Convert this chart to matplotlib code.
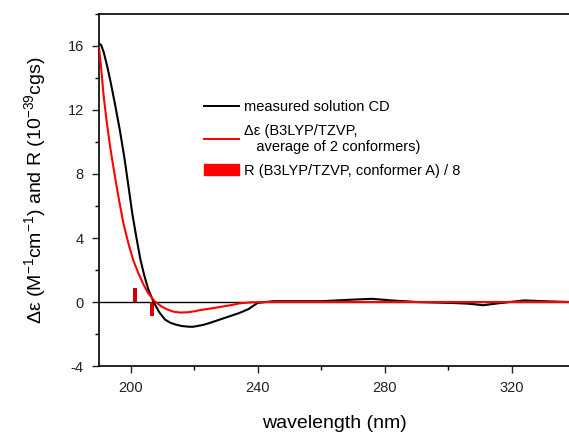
import matplotlib
matplotlib.use("Agg")
import matplotlib.pyplot as plt
from matplotlib.lines import Line2D
from matplotlib.patches import Patch
from matplotlib.ticker import MultipleLocator

plt.rcParams['font.family'] = ['Liberation Sans', 'DejaVu Sans']
plt.rcParams['axes.unicode_minus'] = False
plt.rcParams['mathtext.default'] = 'regular'

# measured solution CD
meas_wl = [190, 190.7, 191.5, 192.5, 193.5, 195, 196.6, 198, 199.3, 200.5, 201.8, 203, 204.2, 205.5,
           207.2, 209, 210.8, 212.5, 214, 216, 218, 219.5, 221, 223, 225, 228, 231, 234, 237, 240,
           245, 250, 260, 270, 276, 282, 290, 300, 306, 311, 317, 324, 330, 338]
meas_de = [16.15, 16.05, 15.6, 14.8, 13.9, 12.4, 10.7, 9.0, 7.2, 5.5, 4.0, 2.7, 1.7, 0.8,
           0.0, -0.65, -1.1, -1.3, -1.4, -1.5, -1.54, -1.55, -1.5, -1.42, -1.3, -1.1, -0.9, -0.7, -0.45, -0.05,
           0.05, 0.05, 0.05, 0.15, 0.2, 0.1, 0.0, -0.05, -0.1, -0.2, -0.05, 0.1, 0.05, 0.0]

# calculated (B3LYP/TZVP, average of 2 conformers)
calc_wl = [190, 190.7, 191.4, 192.4, 193.5, 194.8, 196.1, 197.6, 199.2, 200.8, 202.4, 204, 205.5,
           207.5, 209.7, 211.5, 213.4, 215.5, 218, 220, 222, 226, 229, 232, 234.4, 238, 242, 338]
calc_de = [15.9, 14.6, 13.0, 11.3, 9.7, 8.1, 6.6, 5.0, 3.7, 2.6, 1.8, 1.1, 0.55,
           0.05, -0.28, -0.47, -0.6, -0.66, -0.64, -0.58, -0.5, -0.38, -0.28, -0.18, -0.08, -0.02, 0.0, 0.0]

# rotational strengths, conformer A, divided by 8
r_wl = [201.3, 206.6]
r_val = [0.87, -0.87]

fig = plt.figure(figsize=(5.69, 4.33), dpi=100)
ax = fig.add_axes([0.174, 0.1547, 0.826, 0.813])

ax.axhline(0, color='black', lw=1.0, zorder=1)
ax.bar(r_wl, r_val, width=1.2, color='#d00000', zorder=2)
ax.plot(meas_wl, meas_de, color='black', lw=1.5, zorder=3)
ax.plot(calc_wl, calc_de, color='red', lw=1.5, zorder=4)

ax.set_xlim(190, 338)
ax.set_ylim(-4, 18)
ax.set_xticks([200, 240, 280, 320])
ax.xaxis.set_minor_locator(MultipleLocator(20))
ax.yaxis.set_major_locator(MultipleLocator(4))
ax.yaxis.set_minor_locator(MultipleLocator(2))
ax.tick_params(which='major', direction='out', length=5, width=1, labelsize=10.5,
               colors='#222222', pad=6)
ax.tick_params(which='minor', direction='out', length=3, width=1)
ax.spines['right'].set_visible(False)
for s in ['left', 'bottom', 'top']:
    ax.spines[s].set_linewidth(1.2)

ax.set_xlabel('wavelength (nm)', fontsize=14, labelpad=14)
ax.set_ylabel(u'\u0394\u03b5 (M$^{-1}$cm$^{-1}$) and R (10$^{-39}$cgs)', fontsize=14, labelpad=14)

handles = [Line2D([], [], color='black', lw=1.4),
           Line2D([], [], color='red', lw=1.4),
           Patch(color='red')]
labels = ['measured solution CD',
          u'\u0394\u03b5 (B3LYP/TZVP,\n   average of 2 conformers)',
          'R (B3LYP/TZVP, conformer A) / 8']
ax.legend(handles, labels, loc='upper left', bbox_to_anchor=(0.345, 0.785),
          bbox_transform=fig.transFigure, frameon=False, fontsize=10.5,
          handlelength=2.4, handletextpad=0.4, labelspacing=0.65, borderpad=0)

fig.savefig('out.png', dpi=100)
